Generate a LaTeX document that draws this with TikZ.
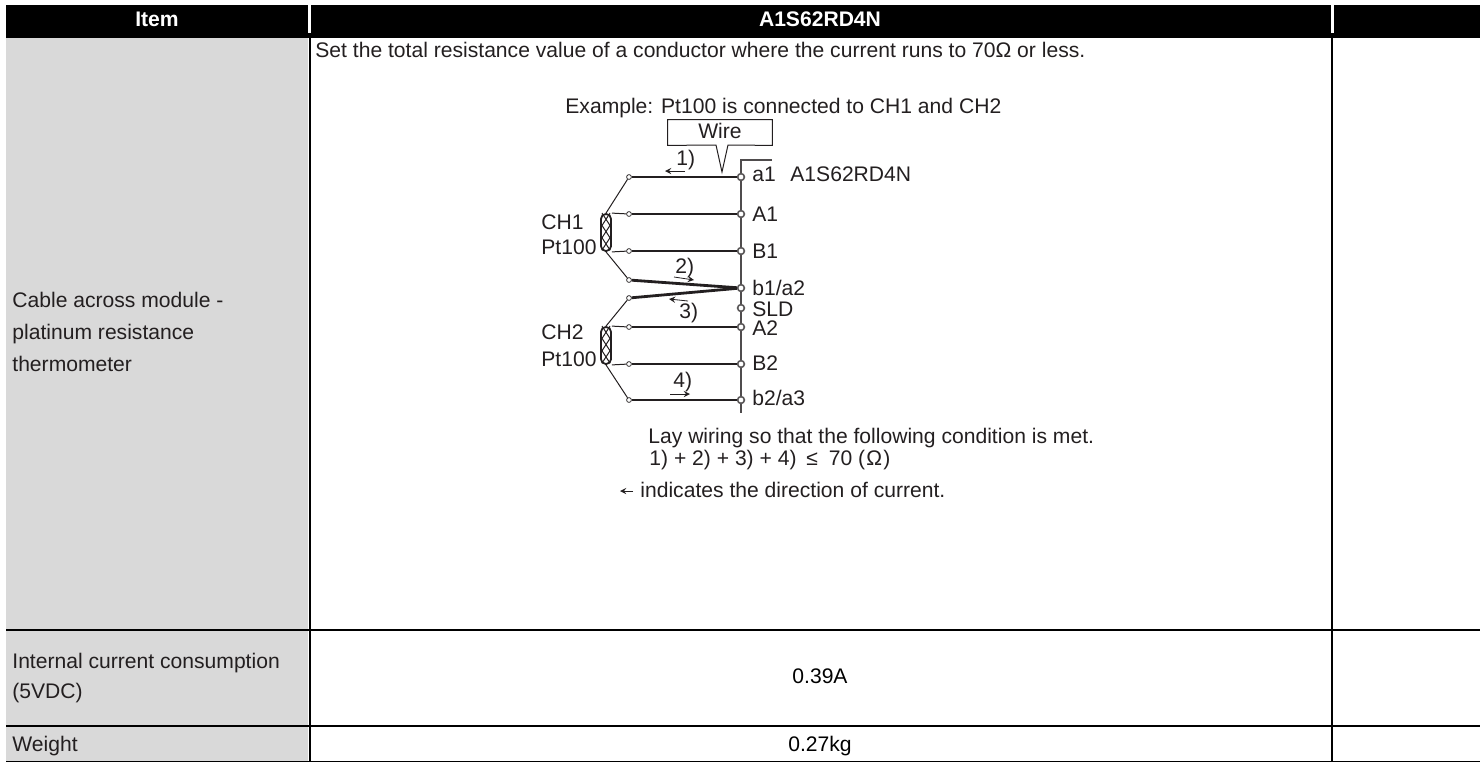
\documentclass[tikz,border=0pt]{standalone}
\usepackage{fontspec}
\setmainfont{Liberation Sans}
\usepackage{tikz}
\definecolor{cellgrey}{HTML}{D9D9D9}
\definecolor{inkgrey}{HTML}{231F20}
\usetikzlibrary{arrows}
\tikzstyle{txt} = [anchor=base west, inner sep=0pt, text=inkgrey, font=\fontsize{10.55}{12}\selectfont]
\tikzstyle{mid} = [anchor=base, inner sep=0pt, text=black, font=\fontsize{10.55}{12}\selectfont]
\tikzstyle{head} = [anchor=base, inner sep=0pt, text=white, font=\fontsize{10.55}{12}\selectfont\bfseries]
\tikzstyle{term} = [circle, draw=inkgrey!75, fill=white, line width=0.8pt, inner sep=0pt, minimum size=3.4pt]
\tikzstyle{junc} = [circle, draw=inkgrey, fill=white, line width=0.35pt, inner sep=0pt, minimum size=2.4pt]
\tikzstyle{coil} = [rectangle, draw=inkgrey, rounded corners=2.4pt, line width=0.9pt, inner sep=0pt, minimum width=5pt, minimum height=18.5pt]
\tikzstyle{wire} = [line width=1.4pt, draw=inkgrey]
\tikzstyle{thinwire} = [line width=0.5pt, draw=inkgrey]
\tikzstyle{rail} = [line width=0.7pt, draw=inkgrey!80]
\tikzstyle{rule} = [line width=1pt, draw=black]
\tikzstyle{arrow} = [line width=0.4pt, draw=inkgrey, ->, >=stealth]
\newcommand{\coilzig}[1]{
	\draw [thinwire] ([shift={(-4,0)}]#1.north) -- ++(8,12.33) -- ++(-8,12.33) -- ++(8,12.33);
	\draw [thinwire] ([shift={(4,0)}]#1.north) -- ++(-8,12.33) -- ++(8,12.33) -- ++(-8,12.33);
}

\begin{document}
\begin{tikzpicture}[x=0.5pt, y=-0.5pt]
	\useasboundingbox (0,0) rectangle (1480,762);

	% table
	\fill [black] (6,5) rectangle (1480,37.5);
	\fill [cellgrey] (6,37.5) rectangle (308,761);
	\fill [white] (308,5) rectangle (310.5,33);
	\fill [white] (1331,5) rectangle (1333.5,33);
	\draw [rule] (309.5,37) -- (309.5,761);
	\draw [rule] (1332,37) -- (1332,761);
	\draw [rule] (6,630) -- (1480,630);
	\draw [rule] (6,726) -- (1480,726);
	\draw [line width=0.5pt] (6,761.5) -- (1480,761.5);

	\node (HeadItem) [head] at (157,26) {Item};
	\node (HeadModule) [head] at (820,26) {A1S62RD4N};
	\node (CableA) [txt] at (12,307) {Cable across module -};
	\node (CableB) [txt] at (12,339) {platinum resistance};
	\node (CableC) [txt] at (12,371) {thermometer};
	\node (CurrentA) [txt] at (12,668) {Internal current consumption};
	\node (CurrentB) [txt] at (12,698) {(5VDC)};
	\node (Weight) [txt] at (12,751) {Weight};
	\node (CurrentVal) [mid] at (820,683) {0.39A};
	\node (WeightVal) [mid] at (820,751) {0.27kg};
	\node (SetTotal) [txt] at (315,57) {Set the total resistance value of a conductor where the current runs to 70Ω or less.};
	\node (Example) [txt] at (565,113) {Example: Pt100 is connected to CH1 and CH2};

	% terminal rail
	\coordinate (RailTop) at (772,160);
	\coordinate (RailCorner) at (741,160);
	\coordinate (RailEnd) at (741,413);
	\draw [rail] (RailTop) -- (RailCorner) -- (RailEnd);

	\node (TermAa) [term] at (741,177) {};
	\node (TermAA) [term] at (741,214) {};
	\node (TermAB) [term] at (741,251) {};
	\node (TermBa) [term] at (741,288) {};
	\node (TermSLD) [term] at (741,308) {};
	\node (TermBA) [term] at (741,327) {};
	\node (TermBB) [term] at (741,364) {};
	\node (TermCa) [term] at (741,400) {};

	\node (JuncAa) [junc] at (629,177) {};
	\node (JuncAA) [junc] at (629,214) {};
	\node (JuncAB) [junc] at (629,251) {};
	\node (JuncAb) [junc] at (629,280) {};
	\node (JuncBa) [junc] at (629,298) {};
	\node (JuncBA) [junc] at (629,327) {};
	\node (JuncBB) [junc] at (629,364) {};
	\node (JuncBb) [junc] at (629,400) {};

	\node (CoilA) [coil] at (606,232.5) {};
	\node (CoilB) [coil] at (606,345.5) {};
	\coilzig{CoilA}
	\coilzig{CoilB}

	\draw [wire] (JuncAa) -- (TermAa);
	\draw [wire] (JuncAA) -- (TermAA);
	\draw [wire] (JuncAB) -- (TermAB);
	\draw [wire] (JuncAb) -- (TermBa);
	\draw [wire] (JuncBa) -- (TermBa);
	\draw [wire] (JuncBA) -- (TermBA);
	\draw [wire] (JuncBB) -- (TermBB);
	\draw [wire] (JuncBb) -- (TermCa);

	\draw [thinwire] (CoilA.north) -- (JuncAa);
	\draw [thinwire] (CoilA.north east) -- (JuncAA);
	\draw [thinwire] (CoilA.south east) -- (JuncAB);
	\draw [thinwire] (CoilA.south) -- (JuncAb);
	\draw [thinwire] (CoilB.north) -- (JuncBa);
	\draw [thinwire] (CoilB.north east) -- (JuncBA);
	\draw [thinwire] (CoilB.south east) -- (JuncBB);
	\draw [thinwire] (CoilB.south) -- (JuncBb);

	% wire callout
	\node (WireBox) [inner sep=0pt, minimum width=52pt, minimum height=12.5pt] at (720,132.5) {};
	\node (WireText) [mid, text=inkgrey] at (720,138) {Wire};
	\coordinate (WireTip) at (722,172);
	\draw [thinwire] (WireBox.north west) -- (WireBox.north east) -- (WireBox.south east) -- (728,145) -- (WireTip) -- (716,145) -- (WireBox.south west) -- cycle;

	% labels of the terminals
	\node (LabAa) [txt] at (752,181) {a1};
	\node (LabModule) [txt] at (790,181) {A1S62RD4N};
	\node (LabAA) [txt] at (752,221) {A1};
	\node (LabAB) [txt] at (752,258) {B1};
	\node (LabBa) [txt] at (752,295) {b1/a2};
	\node (LabSLD) [txt] at (752,316) {SLD};
	\node (LabBA) [txt] at (752,335) {A2};
	\node (LabBB) [txt] at (752,370) {B2};
	\node (LabCa) [txt] at (752,405) {b2/a3};
	\node (LabCHa) [txt] at (541,229) {CH1};
	\node (LabPta) [txt] at (541,254) {Pt100};
	\node (LabCHb) [txt] at (541,339) {CH2};
	\node (LabPtb) [txt] at (541,366) {Pt100};

	% current arrows
	\node (LabOne) [txt] at (676,165) {1)};
	\node (LabTwo) [txt] at (675,273) {2)};
	\node (LabThree) [txt] at (679,318) {3)};
	\node (LabFour) [txt] at (673,387) {4)};
	\coordinate (ArrOneS) at (685,171);
	\coordinate (ArrOneE) at (665,171);
	\coordinate (ArrTwoS) at (674,277);
	\coordinate (ArrTwoE) at (694,280);
	\coordinate (ArrThreeS) at (688,301);
	\coordinate (ArrThreeE) at (669,299);
	\coordinate (ArrFourS) at (670,394);
	\coordinate (ArrFourE) at (690,394);
	\draw [arrow] (ArrOneS) -- (ArrOneE);
	\draw [arrow] (ArrTwoS) -- (ArrTwoE);
	\draw [arrow] (ArrThreeS) -- (ArrThreeE);
	\draw [arrow] (ArrFourS) -- (ArrFourE);

	% notes
	\node (LayWiring) [txt] at (648,443) {Lay wiring so that the following condition is met.};
	\node (Condition) [txt] at (649,465) {1) + 2) + 3) + 4)\hspace{2pt} ≤ \hspace{2.5pt}70 (\hspace{0.6pt}Ω\hspace{0.6pt})};
	\node (Indicates) [txt] at (640,497) {indicates the direction of current.};
	\coordinate (ArrNoteS) at (633,491);
	\coordinate (ArrNoteE) at (620,491);
	\draw [arrow] (ArrNoteS) -- (ArrNoteE);
\end{tikzpicture}
\end{document}
